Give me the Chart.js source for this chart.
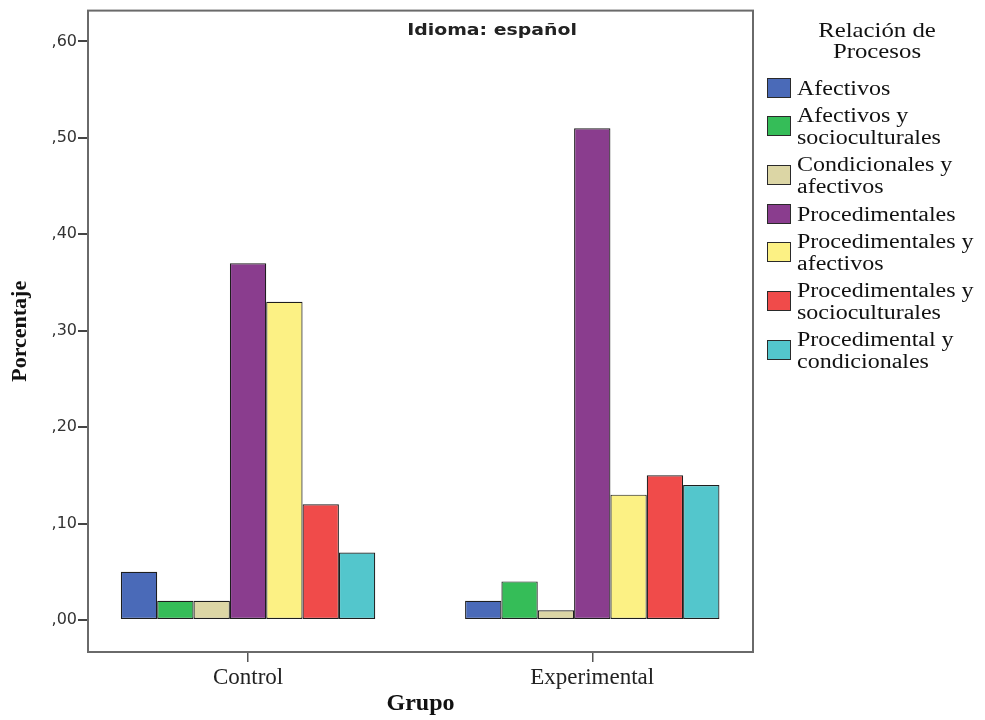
<!DOCTYPE html>
<html><head><meta charset="utf-8">
<script src="https://cdn.jsdelivr.net/npm/chart.js@4/dist/chart.umd.min.js"></script>
<style>
html,body{margin:0;padding:0;background:#fff;}
#wrap{position:relative;width:985px;height:720px;overflow:hidden;}
#c{position:absolute;left:0;top:0;}
#subtitle{position:absolute;left:392px;width:200px;top:20px;text-align:center;font:bold 16px "DejaVu Sans";color:#222;transform:scaleX(1.18);line-height:20px;white-space:nowrap}
#legend{position:absolute;left:767px;top:0;width:218px;height:400px;font-family:"Liberation Serif";color:#111}
#legtitle{position:absolute;left:0;width:220px;top:20px;text-align:center;font-size:21px;line-height:21px;transform:scaleX(1.18);white-space:pre-line}
.item{position:absolute;left:0;display:flex;align-items:center}
.box{width:22px;height:18px;border:1px solid #2a2a2a;flex:none}
.txt{margin-left:6px;font-size:20px;line-height:22px;transform:scaleX(1.2);transform-origin:left center;white-space:pre}
</style>
</head><body>
<div id="wrap">
<canvas id="c" width="985" height="720"></canvas>
<div id="subtitle"></div>
<div id="legend"><div id="legtitle"></div></div>
</div>
<script>
const chartSubtitle = 'Idioma: español';
const legendTitle = 'Relación de\nProcesos';
const xTitle = 'Grupo';
const yTitle = 'Porcentaje';
const categories = ['Control', 'Experimental'];
const seriesNames = [
  'Afectivos',
  'Afectivos y\nsocioculturales',
  'Condicionales y\nafectivos',
  'Procedimentales',
  'Procedimentales y\nafectivos',
  'Procedimentales y\nsocioculturales',
  'Procedimental y\ncondicionales'
];
const seriesColors = ['#4a6ab8', '#35bd58', '#dcd6a5', '#8a3d8e', '#fcf184', '#f04b4a', '#53c6cc'];
const controlValues = [0.05, 0.02, 0.02, 0.37, 0.33, 0.12, 0.07];
const experimentalValues = [0.02, 0.04, 0.01, 0.51, 0.13, 0.15, 0.14];
const yTickValues = [0, 0.1, 0.2, 0.3, 0.4, 0.5, 0.6];

const groupValues = [controlValues, experimentalValues];

document.getElementById('subtitle').textContent = chartSubtitle;
document.getElementById('legtitle').textContent = legendTitle;

// HTML legend
const legendEl = document.getElementById('legend');
let itemTop = 77;
seriesNames.forEach((name, i) => {
  const lines = name.split('\n').length;
  const h = lines * 22;
  const item = document.createElement('div');
  item.className = 'item';
  item.style.top = itemTop + 'px';
  item.style.height = h + 'px';
  const box = document.createElement('div');
  box.className = 'box';
  box.style.background = seriesColors[i];
  const txt = document.createElement('div');
  txt.className = 'txt';
  txt.textContent = name;
  item.appendChild(box);
  item.appendChild(txt);
  legendEl.appendChild(item);
  itemTop += h + 5.2;
});

const datasets = seriesNames.map((name, i) => ({
  label: name.replace('\n', ' '),
  data: categories.map((c, j) => ({ x: j, y: groupValues[j][i] })),
  backgroundColor: seriesColors[i],
  borderColor: '#1e1e1e',
  borderWidth: 1.2,
  borderSkipped: false,
  categoryPercentage: 0.739,
  barPercentage: 1
}));

const framePlugin = {
  id: 'frame',
  afterDraw(chart) {
    const { ctx, chartArea: a } = chart;
    ctx.save();
    ctx.strokeStyle = '#6a6a6a';
    ctx.lineWidth = 2;
    ctx.strokeRect(a.left, a.top, a.right - a.left, a.bottom - a.top);
    ctx.restore();
  }
};

new Chart(document.getElementById('c'), {
  type: 'bar',
  data: { datasets },
  plugins: [framePlugin],
  options: {
    responsive: false,
    animation: false,
    layout: { padding: { top: 10, right: 232, left: 0, bottom: 0 } },
    plugins: { legend: { display: false }, tooltip: { enabled: false } },
    scales: {
      x: {
        type: 'linear',
        offset: false,
        min: -0.465,
        max: 1.467,
        afterBuildTicks: s => { s.ticks = categories.map((c, i) => ({ value: i })); },
        afterFit: s => { s.height = 68; },
        ticks: {
          callback: v => categories[v],
          font: { family: 'Liberation Serif', size: 23 },
          color: '#222',
          padding: 2,
          maxRotation: 0,
          autoSkip: false
        },
        grid: { offset: false, drawOnChartArea: false, drawTicks: true, tickLength: 10, color: '#555', lineWidth: 1.5 },
        border: { display: false },
        title: { display: true, text: xTitle, font: { family: 'Liberation Serif', size: 24, weight: 'bold' }, color: '#111', padding: { top: 0, bottom: 2 } }
      },
      y: {
        type: 'linear',
        min: -0.0332,
        max: 0.632,
        afterBuildTicks: s => { s.ticks = yTickValues.map(v => ({ value: v })); },
        afterFit: s => { s.width = 88; },
        ticks: {
          callback: v => ',' + v.toFixed(2).split('.')[1],
          font: { family: 'DejaVu Sans', size: 16 },
          color: '#333',
          padding: 1
        },
        grid: { drawOnChartArea: false, drawTicks: true, tickLength: 10, color: '#444', lineWidth: 2 },
        border: { display: false },
        title: { display: true, text: yTitle, font: { family: 'Liberation Serif', size: 22, weight: 'bold' }, color: '#111', padding: { top: 7, bottom: 0 } }
      }
    }
  }
});
</script>
</body></html>
